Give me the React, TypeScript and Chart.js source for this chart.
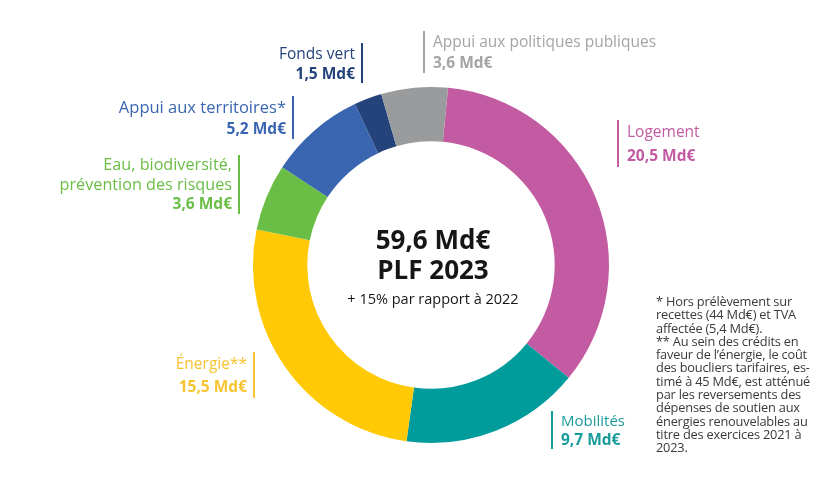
import React, { useEffect, useRef } from "react";
import { Chart, registerables } from "chart.js";

Chart.register(...registerables);

const categories = [
  "Logement",
  "Mobilités",
  "Énergie**",
  "Eau, biodiversité,\nprévention des risques",
  "Appui aux territoires*",
  "Fonds vert",
  "Appui aux politiques publiques",
];
const values = [20.5, 9.7, 15.5, 3.6, 5.2, 1.5, 3.6];
const sliceColors = ["#C25BA1", "#009B9B", "#FFCA05", "#6ABE46", "#3A66B1", "#24437B", "#9A9B9D"];
const textColors = ["#C25BA1", "#1A9B9B", "#F5C430", "#6ABE46", "#3A66B1", "#24437B", "#A3A4A6"];

const totalLabel = "59,6 Md€";
const titleLabel = "PLF 2023";
const subLabel = "+ 15% par rapport à 2022";
const footnoteLines = [
  "* Hors prélèvement sur",
  "recettes (44 Md€) et TVA",
  "affectée (5,4 Md€).",
  "** Au sein des crédits en",
  "faveur de l’énergie, le coût",
  "des boucliers tarifaires, es-",
  "timé à 45 Md€, est atténué",
  "par les reversements des",
  "dépenses de soutien aux",
  "énergies renouvelables au",
  "titre des exercices 2021 à",
  "2023.",
];

// layout of label blocks (bar x position, block top, line height, side, font size)
const labelLayout = [
  { side: "left", barX: 618, top: 120, lh: 23.5, fs: 15.5 },
  { side: "left", barX: 552, top: 411, lh: 19, fs: 15 },
  { side: "right", barX: 254, top: 352, lh: 23, fs: 15.5 },
  { side: "right", barX: 239, top: 155, lh: 19.5, fs: 16.2 },
  { side: "right", barX: 293, top: 96, lh: 21.5, fs: 16.5 },
  { side: "right", barX: 362, top: 43, lh: 20, fs: 15.5 },
  { side: "left", barX: 424, top: 31, lh: 21, fs: 15.5 },
];

const FONT = "'Open Sans', 'Noto Sans', sans-serif";

function fmt(v: number) {
  return v.toFixed(1).replace(".", ",") + " Md€";
}

export default function App() {
  const ref = useRef<HTMLCanvasElement | null>(null);

  useEffect(() => {
    if (!ref.current) return;
    const chart = new Chart(ref.current, {
      type: "doughnut",
      data: {
        labels: categories,
        datasets: [
          {
            data: values,
            backgroundColor: sliceColors,
            borderWidth: 0,
          },
        ],
      },
      options: {
        animation: false,
        responsive: false,
        rotation: 5.5,
        cutout: "69.5%",
        layout: { padding: { top: 87, bottom: 43, left: 253, right: 226 } },
        plugins: {
          legend: { display: false },
          tooltip: { enabled: false },
        },
      },
    });
    return () => chart.destroy();
  }, []);

  return (
    <div
      style={{
        position: "absolute",
        left: 0,
        top: 0,
        width: 835,
        height: 486,
        background: "#fff",
        fontFamily: FONT,
        overflow: "hidden",
      }}
    >
      <canvas ref={ref} width={835} height={486} style={{ position: "absolute", left: 0, top: 0 }} />
      {categories.map((c, i) => {
        const L = labelLayout[i];
        const lines = c.split("\n");
        const col = textColors[i];
        const common: React.CSSProperties = {
          position: "absolute",
          top: L.top,
          lineHeight: L.lh + "px",
          fontSize: L.fs,
          color: col,
          whiteSpace: "nowrap",
        };
        const style: React.CSSProperties =
          L.side === "left"
            ? { ...common, left: L.barX - 1, borderLeft: `2px solid ${col}`, paddingLeft: 8, textAlign: "left" }
            : { ...common, right: 835 - L.barX - 1, borderRight: `2px solid ${col}`, paddingRight: 6, textAlign: "right" };
        return (
          <div key={i} style={style}>
            {lines.map((ln, j) => (
              <div key={j}>{ln}</div>
            ))}
            <div style={{ fontWeight: 700, fontSize: 15.5 }}>{fmt(values[i])}</div>
          </div>
        );
      })}
      <div
        style={{
          position: "absolute",
          left: 333,
          width: 200,
          top: 224,
          textAlign: "center",
          color: "#161616",
        }}
      >
        <div style={{ fontSize: 26, fontWeight: 700, lineHeight: "30px" }}>{totalLabel}</div>
        <div style={{ fontSize: 26, fontWeight: 700, lineHeight: "30px" }}>{titleLabel}</div>
        <div style={{ fontSize: 14.5, lineHeight: "18px", marginTop: 6 }}>{subLabel}</div>
      </div>
      <div
        style={{
          position: "absolute",
          left: 656,
          top: 295,
          fontSize: 12.8,
          lineHeight: "13.3px",
          color: "#3a3a3a",
          whiteSpace: "nowrap",
          letterSpacing: "-0.2px",
        }}
      >
        {footnoteLines.map((l, i) => (
          <div key={i}>{l}</div>
        ))}
      </div>
    </div>
  );
}
